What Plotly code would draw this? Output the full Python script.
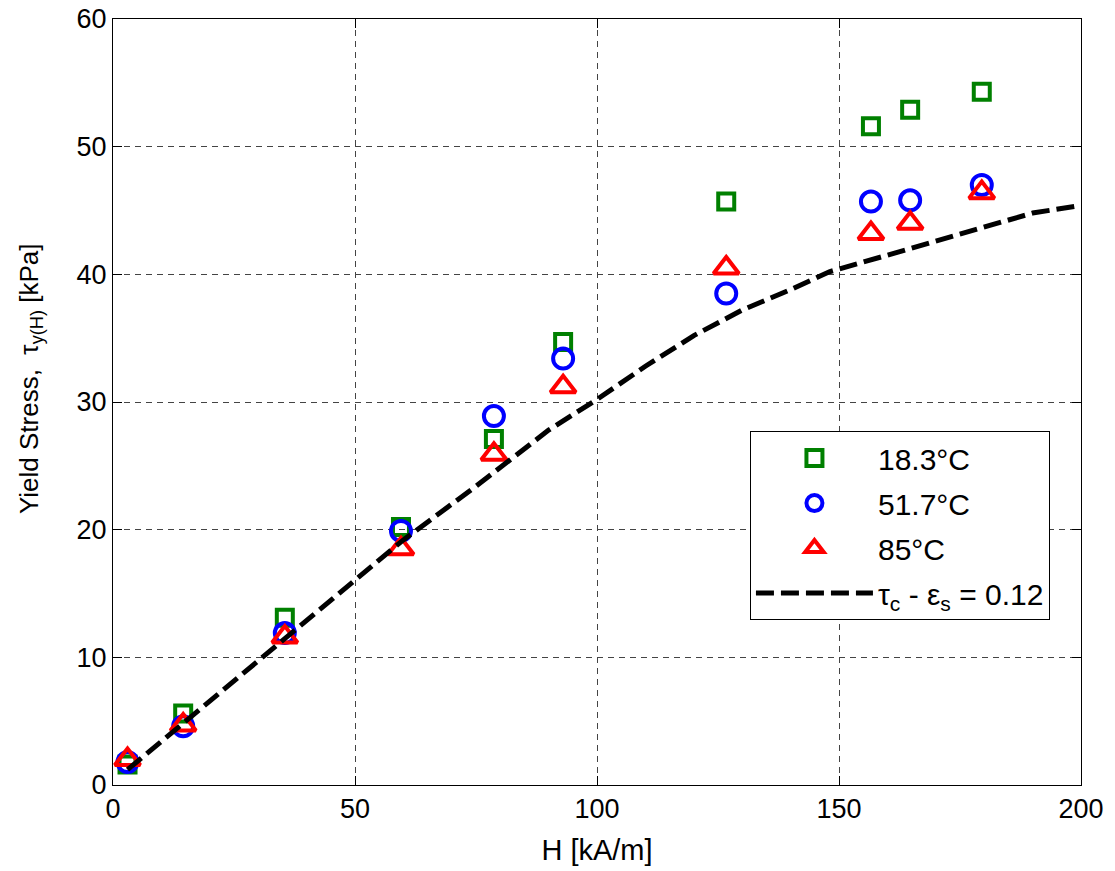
import plotly.graph_objects as go

# Data
H_pts = [3, 14.5, 35.5, 59.5, 78.7, 93, 126.7, 156.6, 164.7, 179.5]
y_183 = [1.6, 5.6, 13.1, 20.2, 27.1, 34.7, 45.7, 51.6, 52.9, 54.3]
y_517 = [1.8, 4.6, 11.9, 19.9, 28.9, 33.4, 38.5, 45.7, 45.8, 47.0]
y_85 = [2.0, 4.7, 11.6, 18.5, 25.9, 31.2, 40.5, 43.2, 44.0, 46.4]

H_model = [3, 15, 30, 45, 60, 75, 90, 100, 110, 120, 130, 140, 148, 160, 170, 180, 190, 200]
y_model = [1.2, 5.0, 9.8, 14.5, 19.2, 23.4, 27.8, 30.2, 32.8, 35.2, 37.2, 38.8, 40.2, 41.5, 42.6, 43.8, 44.8, 45.4]

x_ticks = [0, 50, 100, 150, 200]
y_ticks = [0, 10, 20, 30, 40, 50, 60]

FONT = "Liberation Sans, Arial, sans-serif"

fig = go.Figure()
fig.add_trace(go.Scatter(x=H_pts, y=y_183, mode="markers", name="18.3°C", legendgroup="a",
                         marker=dict(symbol="square-open", size=16, color="#008000",
                                     line=dict(width=4, color="#008000"))))
fig.add_trace(go.Scatter(x=H_pts, y=y_517, mode="markers", name="51.7°C", legendgroup="b",
                         marker=dict(symbol="circle-open", size=20, color="#0000FF",
                                     line=dict(width=4, color="#0000FF"))))
fig.add_trace(go.Scatter(x=H_pts, y=y_85, mode="markers", name="85°C", legendgroup="c",
                         marker=dict(symbol="triangle-up-open", size=22, color="#FF0000",
                                     line=dict(width=4, color="#FF0000"))))
fig.add_trace(go.Scatter(x=H_model, y=y_model, mode="lines", legendgroup="d",
                         name="τ<sub>c</sub> - ε<sub>s</sub> = 0.12",
                         line=dict(color="black", width=5, dash="18px,7px")))

axis_common = dict(showline=True, linecolor="black", linewidth=1, mirror="ticks",
                   ticks="inside", ticklen=9, tickcolor="black",
                   showgrid=True, gridcolor="#444444", gridwidth=1, griddash="6px,5px",
                   zeroline=False, ticklabeloverflow="allow",
                   tickfont=dict(size=27, color="black", family=FONT))

fig.update_xaxes(range=[0, 200], tickvals=x_ticks, **axis_common,
                 title=dict(text="H [kA/m]", font=dict(size=29, color="black", family=FONT), standoff=16))
fig.update_yaxes(range=[0, 60], tickvals=y_ticks, **axis_common)

fig.add_annotation(text="Yield Stress,  τ<sub>y(H)</sub> [kPa]", textangle=-90,
                   xref="paper", yref="paper", x=-0.0857, y=0.53,
                   xanchor="center", yanchor="middle", showarrow=False,
                   font=dict(size=26, color="black", family=FONT))

fig.update_layout(
    width=1115, height=871,
    margin=dict(l=105, r=42, t=11, b=94, autoexpand=False),
    paper_bgcolor="white", plot_bgcolor="white",
    font=dict(family=FONT, color="black"),
    legend=dict(x=0.658, y=0.462, xanchor="left", yanchor="top",
                bgcolor="white", bordercolor="black", borderwidth=1,
                font=dict(size=30, color="black", family=FONT),
                traceorder="grouped", tracegroupgap=3, itemwidth=117),
)

fig.write_html("out.html")
